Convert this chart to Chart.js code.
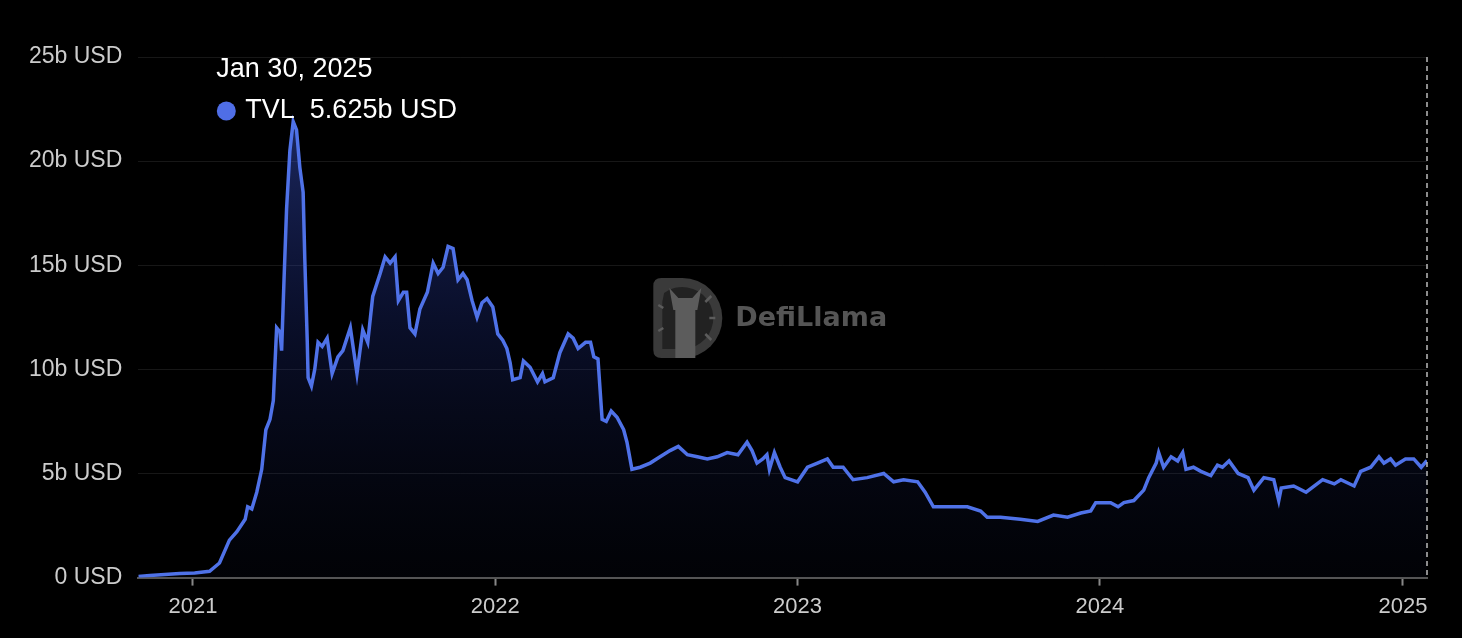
<!DOCTYPE html>
<html>
<head>
  <meta charset="UTF-8" />
  <title>TVL</title>
  <script src="https://cdn.jsdelivr.net/npm/chart.js"></script>
  <style>
    html, body { margin: 0; padding: 0; background: #000; }
    #wrap { width: 1462px; height: 638px; }
  </style>
</head>
<body>
<div id="wrap"><canvas id="tvlChart"></canvas></div>

<script>
  // 1) Data (TVL in billions of USD)
  const dates = [
    '2020-10-27','2020-11-10','2020-11-28','2020-12-16','2021-01-03','2021-01-21','2021-02-02','2021-02-14',
    '2021-02-23','2021-03-05','2021-03-08','2021-03-13','2021-03-19','2021-03-25','2021-03-30','2021-04-04',
    '2021-04-08','2021-04-12','2021-04-16','2021-04-18','2021-04-21','2021-04-24','2021-04-28','2021-05-02',
    '2021-05-06','2021-05-10','2021-05-14','2021-05-16','2021-05-19','2021-05-20','2021-05-24','2021-05-28',
    '2021-06-01','2021-06-06','2021-06-12','2021-06-18','2021-06-25','2021-07-01','2021-07-10','2021-07-18',
    '2021-07-25','2021-07-31','2021-08-06','2021-08-15','2021-08-21','2021-08-27','2021-09-02','2021-09-06',
    '2021-09-12','2021-09-16','2021-09-20','2021-09-26','2021-10-02','2021-10-11','2021-10-18','2021-10-24',
    '2021-10-30','2021-11-05','2021-11-11','2021-11-17','2021-11-23','2021-11-28','2021-12-04','2021-12-10',
    '2021-12-16','2021-12-22','2021-12-29','2022-01-04','2022-01-10','2022-01-15','2022-01-19','2022-01-22',
    '2022-01-31','2022-02-04','2022-02-12','2022-02-21','2022-02-27','2022-03-02','2022-03-12','2022-03-20',
    '2022-03-30','2022-04-05','2022-04-11','2022-04-20','2022-04-26','2022-04-30','2022-05-05','2022-05-10',
    '2022-05-15','2022-05-21','2022-05-28','2022-06-05','2022-06-09','2022-06-15','2022-06-25','2022-07-07',
    '2022-07-19','2022-07-31','2022-08-10','2022-08-21','2022-09-02','2022-09-14','2022-09-26','2022-10-08',
    '2022-10-21','2022-11-01','2022-11-07','2022-11-13','2022-11-20','2022-11-25','2022-11-28','2022-12-04',
    '2022-12-11','2022-12-17','2023-01-01','2023-01-13','2023-01-25','2023-02-06','2023-02-13','2023-02-25',
    '2023-03-09','2023-03-26','2023-04-15','2023-04-27','2023-05-09','2023-05-26','2023-06-04','2023-06-14',
    '2023-07-05','2023-07-25','2023-08-10','2023-08-18','2023-09-03','2023-09-27','2023-10-18','2023-11-06',
    '2023-11-23','2023-12-09','2023-12-21','2023-12-27','2024-01-04','2024-01-14','2024-01-23','2024-01-30',
    '2024-02-11','2024-02-23','2024-02-29','2024-03-09','2024-03-12','2024-03-18','2024-03-27','2024-04-04',
    '2024-04-10','2024-04-14','2024-04-23','2024-05-02','2024-05-14','2024-05-22','2024-05-28','2024-06-05',
    '2024-06-16','2024-06-28','2024-07-05','2024-07-17','2024-07-29','2024-08-04','2024-08-07','2024-08-22',
    '2024-09-06','2024-09-26','2024-10-10','2024-10-18','2024-11-03','2024-11-11','2024-11-23','2024-12-03',
    '2024-12-09','2024-12-17','2024-12-23','2025-01-04','2025-01-14','2025-01-23','2025-01-30'
  ];
  const tvl = [
    0.05, 0.1, 0.15, 0.2, 0.22, 0.3, 0.7, 1.8,
    2.2, 2.8, 3.4, 3.3, 4.1, 5.2, 7.1, 7.6,
    8.5, 12.0, 11.8, 10.9, 14.4, 17.7, 20.5, 21.9,
    21.5, 19.7, 18.5, 15.3, 11.3, 9.6, 9.2, 10.0,
    11.3, 11.1, 11.5, 9.8, 10.6, 10.9, 12.0, 9.8,
    11.9, 11.3, 13.5, 14.6, 15.4, 15.1, 15.4, 13.3,
    13.7, 13.7, 12.0, 11.7, 12.9, 13.7, 15.1, 14.6,
    14.9, 15.9, 15.8, 14.3, 14.6, 14.3, 13.3, 12.5,
    13.2, 13.4, 13.0, 11.7, 11.4, 11.0, 10.3, 9.5,
    9.6, 10.4, 10.1, 9.4, 9.8, 9.4, 9.6, 10.8,
    11.7, 11.5, 11.0, 11.3, 11.3, 10.6, 10.5, 7.6,
    7.5, 8.0, 7.7, 7.1, 6.5, 5.2, 5.3, 5.5,
    5.8, 6.1, 6.3, 5.9, 5.8, 5.7, 5.8, 6.0,
    5.9, 6.5, 6.1, 5.5, 5.7, 5.9, 5.2, 6.0,
    5.3, 4.8, 4.6, 5.3, 5.5, 5.7, 5.3, 5.3,
    4.7, 4.8, 5.0, 4.6, 4.7, 4.6, 4.1, 3.4,
    3.4, 3.4, 3.2, 2.9, 2.9, 2.8, 2.7, 3.0,
    2.9, 3.1, 3.2, 3.6, 3.6, 3.6, 3.4, 3.6,
    3.7, 4.2, 4.8, 5.5, 6.0, 5.3, 5.8, 5.6,
    6.0, 5.2, 5.3, 5.1, 4.9, 5.4, 5.3, 5.6,
    5.0, 4.8, 4.2, 4.8, 4.7, 3.7, 4.3, 4.4,
    4.1, 4.7, 4.5, 4.7, 4.4, 5.1, 5.3, 5.8,
    5.5, 5.7, 5.4, 5.7, 5.7, 5.3, 5.625
  ];
  const yTicks = [0, 5, 10, 15, 20, 25];
  const xTickYears = [2021, 2022, 2023, 2024, 2025];
  const seriesName = 'TVL';

  const MONTHS = ['Jan','Feb','Mar','Apr','May','Jun','Jul','Aug','Sep','Oct','Nov','Dec'];
  const FONT = '"Liberation Sans", Arial, Helvetica, sans-serif';

  const points = dates.map((d, i) => ({ x: Date.parse(d + 'T00:00:00Z'), y: tvl[i] }));
  const lastIdx = points.length - 1;

  function fmtDate(ts) {
    const d = new Date(ts);
    return MONTHS[d.getUTCMonth()] + ' ' + d.getUTCDate() + ', ' + d.getUTCFullYear();
  }

  // 2) Plugins: watermark, crosshair and fixed tooltip
  const watermark = {
    id: 'watermark',
    beforeDatasetsDraw(chart) {
      const { ctx, chartArea: a } = chart;
      const x0 = a.left + 515, y0 = a.top + 221;
      const w = 69, h = 80, r = h / 2;
      ctx.save();
      // D shaped logo
      ctx.fillStyle = '#3a3a3a';
      ctx.beginPath();
      ctx.moveTo(x0 + 8, y0);
      ctx.lineTo(x0 + w - r, y0);
      ctx.arc(x0 + w - r, y0 + r, r, -Math.PI / 2, Math.PI / 2);
      ctx.lineTo(x0 + 8, y0 + h);
      ctx.quadraticCurveTo(x0, y0 + h, x0, y0 + h - 8);
      ctx.lineTo(x0, y0 + 8);
      ctx.quadraticCurveTo(x0, y0, x0 + 8, y0);
      ctx.fill();
      ctx.fillStyle = '#222222';
      ctx.beginPath();
      ctx.arc(x0 + w - r, y0 + r, r - 9, -Math.PI * 0.7, Math.PI * 0.5);
      ctx.lineTo(x0 + 9, y0 + h - 9);
      ctx.lineTo(x0 + 9, y0 + 24);
      ctx.closePath();
      ctx.fill();
      // llama
      ctx.fillStyle = '#5c5c5c';
      ctx.fillRect(x0 + 22, y0 + 22, 20, h - 22);
      ctx.beginPath();
      ctx.moveTo(x0 + 16, y0 + 10);
      ctx.lineTo(x0 + 25, y0 + 20);
      ctx.lineTo(x0 + 39, y0 + 20);
      ctx.lineTo(x0 + 48, y0 + 10);
      ctx.lineTo(x0 + 44, y0 + 32);
      ctx.lineTo(x0 + 20, y0 + 32);
      ctx.closePath();
      ctx.fill();
      // rays
      ctx.strokeStyle = '#5c5c5c';
      ctx.lineWidth = 2.5;
      [[52, 24, 58, 18], [56, 40, 62, 40], [52, 56, 58, 62], [10, 30, 5, 27], [10, 50, 5, 53]].forEach(s => {
        ctx.beginPath();
        ctx.moveTo(x0 + s[0], y0 + s[1]);
        ctx.lineTo(x0 + s[2], y0 + s[3]);
        ctx.stroke();
      });
      // name
      ctx.fillStyle = '#555555';
      ctx.font = 'bold 27px "DejaVu Sans", sans-serif';
      ctx.textAlign = 'left';
      ctx.textBaseline = 'middle';
      ctx.fillText('DefiLlama', x0 + 82, y0 + r + 1);
      ctx.restore();
    }
  };

  const crosshair = {
    id: 'crosshair',
    afterDatasetsDraw(chart) {
      const { ctx, chartArea: a, scales } = chart;
      const x = scales.x.getPixelForValue(points[lastIdx].x);
      ctx.save();
      ctx.strokeStyle = '#bbbbbb';
      ctx.lineWidth = 1.5;
      ctx.setLineDash([5, 4]);
      ctx.beginPath();
      ctx.moveTo(x, a.top);
      ctx.lineTo(x, a.bottom);
      ctx.stroke();
      ctx.restore();
    }
  };

  const fixedTooltip = {
    id: 'fixedTooltip',
    afterDraw(chart) {
      const { ctx, chartArea: a } = chart;
      const p = points[lastIdx];
      const x = a.left + 78;
      ctx.save();
      ctx.fillStyle = '#ffffff';
      ctx.font = '27px ' + FONT;
      ctx.textAlign = 'left';
      ctx.textBaseline = 'middle';
      ctx.fillText(fmtDate(p.x), x, a.top + 13);
      ctx.fillStyle = '#4f6ee6';
      ctx.beginPath();
      ctx.arc(x + 10, a.top + 54, 9.5, 0, Math.PI * 2);
      ctx.fill();
      ctx.fillStyle = '#ffffff';
      ctx.fillText(seriesName + '  ' + p.y.toFixed(3) + 'b USD', x + 29, a.top + 54);
      ctx.restore();
    }
  };

  // 3) Chart
  const ctx = document.getElementById('tvlChart').getContext('2d');
  const myChart = new Chart(ctx, {
    type: 'line',
    data: {
      datasets: [{
        label: seriesName,
        data: points,
        borderColor: '#4f72e8',
        borderWidth: 3.5,
        pointRadius: 0,
        tension: 0,
        fill: 'origin',
        backgroundColor: (c) => {
          const a = c.chart.chartArea;
          if (!a) return 'rgba(40,60,150,0.2)';
          const g = c.chart.ctx.createLinearGradient(0, a.top, 0, a.bottom);
          g.addColorStop(0, 'rgba(70,100,230,0.5)');
          g.addColorStop(0.5, 'rgba(40,60,170,0.25)');
          g.addColorStop(1, 'rgba(20,30,80,0.08)');
          return g;
        }
      }]
    },
    options: {
      responsive: true,
      maintainAspectRatio: false,
      animation: false,
      layout: { padding: { left: 13, right: 35, top: 57, bottom: 10 } },
      scales: {
        x: {
          type: 'linear',
          min: points[0].x,
          max: points[lastIdx].x,
          afterBuildTicks: (axis) => {
            axis.ticks = xTickYears.map(yr => ({ value: Date.UTC(yr, 0, 1) }));
          },
          ticks: {
            color: '#cccccc',
            font: { family: FONT, size: 22 },
            padding: 8,
            maxRotation: 0,
            callback: (v) => new Date(v).getUTCFullYear()
          },
          grid: {
            drawOnChartArea: false,
            drawTicks: true,
            tickLength: 8,
            tickWidth: 2,
            color: '#888888'
          },
          border: { display: true, color: '#555555', width: 2 }
        },
        y: {
          min: 0,
          max: 25,
          afterBuildTicks: (axis) => {
            axis.ticks = yTicks.map(v => ({ value: v }));
          },
          ticks: {
            color: '#cccccc',
            font: { family: FONT, size: 23 },
            padding: 16,
            callback: (v) => v === 0 ? '0 USD' : v + 'b USD'
          },
          grid: {
            color: 'rgba(255,255,255,0.09)',
            drawTicks: false
          },
          border: { display: false }
        }
      },
      plugins: {
        legend: { display: false },
        tooltip: { enabled: false }
      }
    },
    plugins: [watermark, crosshair, fixedTooltip]
  });
</script>

</body>
</html>
